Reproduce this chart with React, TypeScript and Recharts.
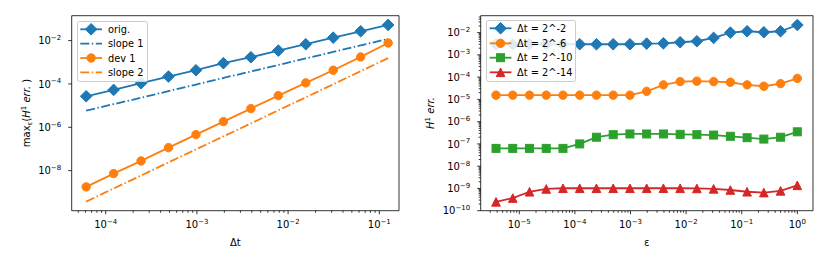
import React from "react";
import { LineChart, Line, XAxis, YAxis, ReferenceArea } from "recharts";

const FONT = "'DejaVu Sans', sans-serif";
const BLUE = "#1f77b4";
const ORANGE = "#ff7f0e";
const GREEN = "#2ca02c";
const RED = "#d62728";

// left panel: max over eps of the H1 error vs time step
const dt = [2 ** -14, 2 ** -13, 2 ** -12, 2 ** -11, 2 ** -10, 2 ** -9, 2 ** -8, 2 ** -7, 2 ** -6, 2 ** -5, 2 ** -4, 2 ** -3];
const origErr = [2.7e-5, 5.3e-5, 1.08e-4, 2.2e-4, 4.3e-4, 9.1e-4, 1.71e-3, 3.46e-3, 6.8e-3, 1.37e-2, 2.7e-2, 5.3e-2];
const dev1Err = [1.77e-9, 7.3e-9, 2.8e-8, 1.15e-7, 4.6e-7, 1.83e-6, 7.3e-6, 2.9e-5, 1.12e-4, 4.3e-4, 1.77e-3, 7.8e-3];
const slope1 = [5.9e-6, 1.17e-5, 2.3e-5, 4.7e-5, 9.4e-5, 1.9e-4, 3.75e-4, 7.5e-4, 1.5e-3, 3.0e-3, 6.0e-3, 1.2e-2];
const slope2 = [3.7e-10, 1.5e-9, 5.9e-9, 2.4e-8, 9.5e-8, 3.8e-7, 1.5e-6, 6.1e-6, 2.4e-5, 9.7e-5, 3.9e-4, 1.55e-3];

// right panel: H1 error vs eps for four time steps
const eps = [2 ** -18, 2 ** -17, 2 ** -16, 2 ** -15, 2 ** -14, 2 ** -13, 2 ** -12, 2 ** -11, 2 ** -10, 2 ** -9, 2 ** -8, 2 ** -7, 2 ** -6, 2 ** -5, 2 ** -4, 2 ** -3, 2 ** -2, 2 ** -1, 1];
const errDt2 = [3.0e-3, 3.0e-3, 3.0e-3, 3.0e-3, 3.0e-3, 3.0e-3, 3.0e-3, 3.0e-3, 3.0e-3, 3.2e-3, 3.3e-3, 3.7e-3, 4.1e-3, 5.8e-3, 1.0e-2, 1.15e-2, 1.04e-2, 1.15e-2, 2.2e-2];
const errDt6 = [1.55e-5, 1.55e-5, 1.55e-5, 1.55e-5, 1.55e-5, 1.55e-5, 1.55e-5, 1.55e-5, 1.55e-5, 2.3e-5, 4.5e-5, 6.3e-5, 6.6e-5, 6.3e-5, 5.9e-5, 4.5e-5, 3.9e-5, 5.1e-5, 8.8e-5];
const errDt10 = [6.3e-8, 6.3e-8, 6.3e-8, 6.3e-8, 6.3e-8, 1.0e-7, 2.0e-7, 2.6e-7, 2.8e-7, 2.8e-7, 2.8e-7, 2.7e-7, 2.6e-7, 2.5e-7, 2.2e-7, 1.9e-7, 1.65e-7, 2.0e-7, 3.5e-7];
const errDt14 = [2.5e-10, 3.7e-10, 7.1e-10, 9.5e-10, 1.02e-9, 1.02e-9, 1.02e-9, 1.02e-9, 1.02e-9, 1.02e-9, 1.02e-9, 1.02e-9, 1.0e-9, 9.6e-10, 8.5e-10, 7.1e-10, 6.5e-10, 7.8e-10, 1.38e-9];

// axis ranges and ticks
const leftXDomain = [10 ** -4.373, 10 ** -0.784];
const leftYDomain = [10 ** -9.85, 10 ** -0.85];
const rightXDomain = [10 ** -5.694, 10 ** 0.282];
const rightYDomain = [1e-10, 10 ** -1.24];
const leftXMajor = [1e-4, 1e-3, 1e-2, 1e-1];
const leftYMajor = [1e-8, 1e-6, 1e-4, 1e-2];
const rightXMajor = [1e-5, 1e-4, 1e-3, 1e-2, 1e-1, 1];
const rightYMajor = [1e-10, 1e-9, 1e-8, 1e-7, 1e-6, 1e-5, 1e-4, 1e-3, 1e-2];

// adds the 2..9 minor ticks of each decade that fall inside the domain
function withMinors(majors: number[], domain: number[]) {
  const out: number[] = [];
  const lo = Math.floor(Math.log10(domain[0]));
  const hi = Math.floor(Math.log10(domain[1]));
  for (let k = lo; k <= hi; k++) {
    for (let m = 1; m <= 9; m++) {
      const v = m * 10 ** k;
      if (v >= domain[0] && v <= domain[1]) out.push(m === 1 ? majors.find((t) => Math.abs(Math.log10(t) - k) < 1e-9) ?? v : v);
    }
  }
  return out;
}

const leftData = dt.map((x, i) => ({ x, orig: origErr[i], slope1: slope1[i], dev1: dev1Err[i], slope2: slope2[i] }));
const rightData = eps.map((x, i) => ({ x, d2: errDt2[i], d6: errDt6[i], d10: errDt10[i], d14: errDt14[i] }));

function expText(v: number) {
  const e = Math.round(Math.log10(v));
  return e < 0 ? `\u2212${-e}` : `${e}`;
}

function isMajor(v: number) {
  const l = Math.log10(v);
  return Math.abs(l - Math.round(l)) < 1e-6;
}

const TICK_FS = 10;
const SUP_FS = 7;

function LogTick(props: any) {
  const { x, y, payload, side } = props;
  const v = payload.value;
  const major = isMajor(v);
  const len = major ? 3.5 : 2;
  if (side === "bottom") {
    return (
      <g>
        <line x1={x} x2={x} y1={y} y2={y + len} stroke="#000" strokeWidth={0.8} />
        {major && (
          <text x={x} y={y + 17.5} textAnchor="middle" fontSize={TICK_FS} fontFamily={FONT} fill="#000">
            10<tspan fontSize={SUP_FS} dy={-4.2}>{expText(v)}</tspan>
          </text>
        )}
      </g>
    );
  }
  return (
    <g>
      <line x1={x - len} x2={x} y1={y} y2={y} stroke="#000" strokeWidth={0.8} />
      {major && (
        <text x={x - 10.5} y={y + 3.6} textAnchor="end" fontSize={TICK_FS} fontFamily={FONT} fill="#000">
          10<tspan fontSize={SUP_FS} dy={-4.2}>{expText(v)}</tspan>
        </text>
      )}
    </g>
  );
}

function Marker({ kind, cx, cy, color }: { kind: string; cx: number; cy: number; color: string }) {
  if (kind === "D") {
    const r = 5.8;
    return <polygon points={`${cx},${cy - r} ${cx + r},${cy} ${cx},${cy + r} ${cx - r},${cy}`} fill={color} stroke={color} strokeWidth={1} />;
  }
  if (kind === "o") return <circle cx={cx} cy={cy} r={4.2} fill={color} stroke={color} strokeWidth={1} />;
  if (kind === "s") return <rect x={cx - 4} y={cy - 4} width={8} height={8} fill={color} stroke={color} strokeWidth={1} />;
  const r = 4.3;
  return <polygon points={`${cx},${cy - r} ${cx + r},${cy + r} ${cx - r},${cy + r}`} fill={color} stroke={color} strokeWidth={1} />;
}

const dotOf = (kind: string, color: string) => (p: any) =>
  p.cx == null ? <g key={p.index} /> : <Marker key={p.index} kind={kind} cx={p.cx} cy={p.cy} color={color} />;

type Entry = { label: string; color: string; marker?: string; dashed?: boolean };

// matplotlib style legend, laid over the plot
function LegendBox({ entries, left, top, width, height, rows, handle }: { entries: Entry[]; left: number; top: number; width: number; height: number; rows: number[]; handle: number[] }) {
  return (
    <div style={{ position: "absolute", left, top, width, height, zIndex: 1000, background: "rgba(255,255,255,0.85)", border: "0.8px solid #cccccc", borderRadius: 2.5, boxSizing: "border-box" }}>
      <svg width={width} height={height} style={{ position: "absolute", left: -0.8, top: -0.8, display: "block", overflow: "visible" }}>
        {entries.map((e, i) => (
          <g key={e.label}>
            <line x1={handle[0]} x2={handle[1]} y1={rows[i]} y2={rows[i]} stroke={e.color} strokeWidth={1.8} strokeDasharray={e.dashed ? "9 2.5 1.5 2.5" : undefined} />
            {e.marker && <Marker kind={e.marker} cx={(handle[0] + handle[1]) / 2} cy={rows[i]} color={e.color} />}
            <text x={handle[2]} y={rows[i] + 3.5} fontSize={9.8} fontFamily={FONT} fill="#000">{e.label}</text>
          </g>
        ))}
      </svg>
    </div>
  );
}

const leftEntries: Entry[] = [
  { label: "orig.", color: BLUE, marker: "D" },
  { label: "slope 1", color: BLUE, dashed: true },
  { label: "dev 1", color: ORANGE, marker: "o" },
  { label: "slope 2", color: ORANGE, dashed: true },
];
const rightEntries: Entry[] = [
  { label: "Δt = 2^-2", color: BLUE, marker: "D" },
  { label: "Δt = 2^-6", color: ORANGE, marker: "o" },
  { label: "Δt = 2^-10", color: GREEN, marker: "s" },
  { label: "Δt = 2^-14", color: RED, marker: "^" },
];

function XTitle({ lx, ly, text }: any) {
  return <text x={lx} y={ly} textAnchor="middle" dominantBaseline="central" fontSize={10} fontFamily={FONT} fill="#000">{text}</text>;
}

function LeftYTitle() {
  return (
    <text transform="translate(26,113) rotate(-90)" textAnchor="middle" fontSize={10} fontFamily={FONT} fill="#000" y={3.5}>
      max<tspan fontSize={7} dy={2.5}>ε</tspan>
      <tspan dy={-2.5}>(</tspan>
      <tspan fontStyle="italic">H</tspan>
      <tspan fontSize={7} dy={-4}>1</tspan>
      <tspan fontStyle="italic" dy={4}>{"\u00a0err."}</tspan>
      <tspan>{"\u00a0)"}</tspan>
    </text>
  );
}

function RightYTitle() {
  return (
    <text transform="translate(16,113) rotate(-90)" textAnchor="middle" fontSize={10} fontFamily={FONT} fill="#000" y={3.5}>
      <tspan fontStyle="italic">H</tspan>
      <tspan fontSize={7} dy={-4}>1</tspan>
      <tspan fontStyle="italic" dy={4}>{"\u00a0err."}</tspan>
    </text>
  );
}

const lineW = 1.8;
const dashDot = "9 2.5 1.5 2.5";

export default function App() {
  const leftXTicks = withMinors(leftXMajor, leftXDomain);
  const rightXTicks = withMinors(rightXMajor, rightXDomain);
  const rightYTicks = withMinors(rightYMajor, rightYDomain);
  return (
    <div style={{ position: "absolute", left: 0, top: 0, width: 828, height: 265, background: "#fff", fontFamily: FONT }}>
      <div style={{ position: "absolute", left: 0, top: 0, width: 414, height: 265, zIndex: 0 }}>
        <LineChart width={414} height={265} data={leftData} margin={{ top: 15.7, right: 15, bottom: 24.3, left: 11.7 }}>
          <XAxis dataKey="x" type="number" scale="log" domain={leftXDomain} allowDataOverflow ticks={leftXTicks} interval={0}
            height={30} tickSize={0} tickMargin={0} tickLine={false} axisLine={false} tick={<LogTick side="bottom" />}
            label={<XTitle lx={235.3} ly={242.7} text="Δt" />} />
          <YAxis type="number" scale="log" domain={leftYDomain} allowDataOverflow ticks={leftYMajor} interval={0}
            width={60} tickSize={0} tickMargin={0} tickLine={false} axisLine={false} tick={<LogTick side="left" />}
            label={<LeftYTitle />} />
          <ReferenceArea x1={leftXDomain[0]} x2={leftXDomain[1]} y1={leftYDomain[0]} y2={leftYDomain[1]} fill="none" stroke="#000" strokeWidth={0.8} ifOverflow="visible" />
          <Line dataKey="orig" stroke={BLUE} strokeWidth={lineW} dot={dotOf("D", BLUE)} activeDot={false} isAnimationActive={false} />
          <Line dataKey="slope1" stroke={BLUE} strokeWidth={lineW} strokeDasharray={dashDot} dot={false} activeDot={false} isAnimationActive={false} />
          <Line dataKey="dev1" stroke={ORANGE} strokeWidth={lineW} dot={dotOf("o", ORANGE)} activeDot={false} isAnimationActive={false} />
          <Line dataKey="slope2" stroke={ORANGE} strokeWidth={lineW} strokeDasharray={dashDot} dot={false} activeDot={false} isAnimationActive={false} />
        </LineChart>
      </div>
      <div style={{ position: "absolute", left: 414, top: 0, width: 414, height: 265, zIndex: 0 }}>
        <LineChart width={414} height={265} data={rightData} margin={{ top: 15.7, right: 15, bottom: 24.3, left: 6.7 }}>
          <XAxis dataKey="x" type="number" scale="log" domain={rightXDomain} allowDataOverflow ticks={rightXTicks} interval={0}
            height={30} tickSize={0} tickMargin={0} tickLine={false} axisLine={false} tick={<LogTick side="bottom" />}
            label={<XTitle lx={232.8} ly={242} text="ε" />} />
          <YAxis type="number" scale="log" domain={rightYDomain} allowDataOverflow ticks={rightYTicks} interval={0}
            width={60} tickSize={0} tickMargin={0} tickLine={false} axisLine={false} tick={<LogTick side="left" />}
            label={<RightYTitle />} />
          <ReferenceArea x1={rightXDomain[0]} x2={rightXDomain[1]} y1={rightYDomain[0]} y2={rightYDomain[1]} fill="none" stroke="#000" strokeWidth={0.8} ifOverflow="visible" />
          <Line dataKey="d2" stroke={BLUE} strokeWidth={lineW} dot={dotOf("D", BLUE)} activeDot={false} isAnimationActive={false} />
          <Line dataKey="d6" stroke={ORANGE} strokeWidth={lineW} dot={dotOf("o", ORANGE)} activeDot={false} isAnimationActive={false} />
          <Line dataKey="d10" stroke={GREEN} strokeWidth={lineW} dot={dotOf("s", GREEN)} activeDot={false} isAnimationActive={false} />
          <Line dataKey="d14" stroke={RED} strokeWidth={lineW} dot={dotOf("^", RED)} activeDot={false} isAnimationActive={false} />
        </LineChart>
      </div>
      <LegendBox entries={leftEntries} left={76.7} top={21} width={71} height={61} rows={[8.3, 22.7, 37, 51.3]} handle={[3.3, 25, 31]} />
      <LegendBox entries={rightEntries} left={486.3} top={20} width={90} height={62} rows={[8.3, 23.3, 37.7, 52.3]} handle={[2.7, 24.4, 30]} />
    </div>
  );
}
